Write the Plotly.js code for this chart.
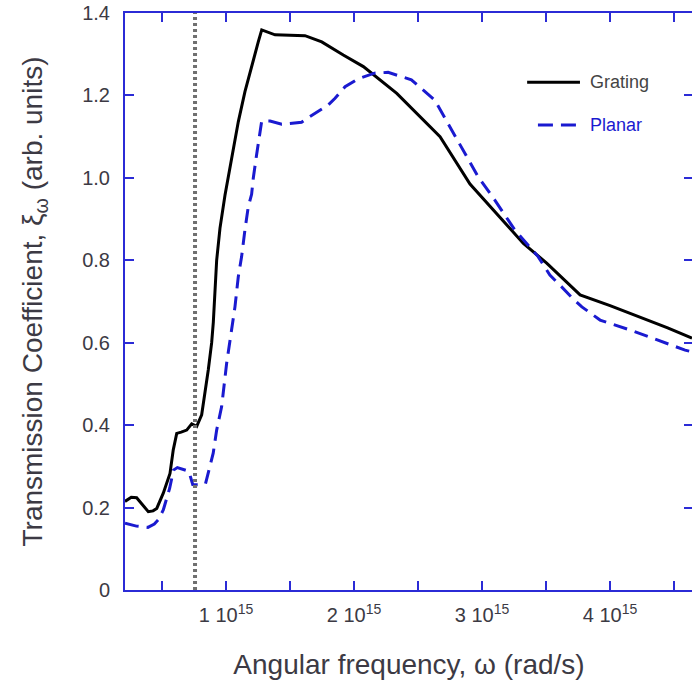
<!DOCTYPE html>
<html>
<head>
<meta charset="utf-8">
<script src="https://cdn.plot.ly/plotly-3.0.1.min.js"></script>
<style>
html,body{margin:0;padding:0;overflow:hidden;background:#fff;}
#chart{width:700px;height:693px;}
</style>
</head>
<body>
<div id="chart"></div>
<script>
// Angular frequency in units of 1e15 rad/s
const gratingOmega = [0.211,0.26,0.302,0.35,0.393,0.43,0.459,0.51,0.5625,0.588,0.615,0.65,0.693,0.732,0.771,0.81,0.836,0.862,0.888,0.901,0.927,0.953,0.992,1.045,1.096,1.148,1.201,1.252,1.279,1.383,1.617,1.748,1.916,2.073,2.334,2.672,2.906,3.115,3.323,3.505,3.766,4.0,4.234,4.45,4.64];
const gratingXi    = [0.215,0.225,0.224,0.205,0.19,0.192,0.198,0.235,0.283,0.34,0.38,0.383,0.388,0.403,0.397,0.425,0.475,0.535,0.60,0.65,0.80,0.878,0.958,1.048,1.136,1.209,1.274,1.33,1.359,1.347,1.345,1.33,1.298,1.27,1.205,1.10,0.985,0.914,0.841,0.793,0.716,0.69,0.662,0.636,0.611];

const planarOmega = [0.211,0.30,0.39,0.44,0.47,0.51,0.56,0.59,0.62,0.68,0.71,0.74,0.80,0.84,0.87,0.90,0.927,0.966,1.005,1.045,1.07,1.096,1.122,1.148,1.174,1.2,1.213,1.239,1.266,1.279,1.344,1.435,1.59,1.656,1.799,1.852,1.93,2.03,2.16,2.266,2.448,2.63,2.734,2.852,2.969,3.1,3.255,3.438,3.53,3.62,3.70,3.78,3.922,4.156,4.359,4.586,4.64];
const planarXi    = [0.162,0.155,0.152,0.16,0.17,0.194,0.247,0.291,0.297,0.29,0.288,0.256,0.255,0.258,0.299,0.332,0.388,0.445,0.55,0.639,0.687,0.76,0.809,0.874,0.93,0.96,0.999,1.056,1.12,1.138,1.138,1.13,1.135,1.149,1.177,1.193,1.221,1.24,1.254,1.256,1.238,1.189,1.132,1.068,1.003,0.946,0.874,0.809,0.764,0.736,0.71,0.687,0.655,0.631,0.607,0.582,0.578];

const cutoffOmega = 0.758;

const xTickVals = [1,2,3,4];
const xTickText = ['1 10<sup>15</sup>','2 10<sup>15</sup>','3 10<sup>15</sup>','4 10<sup>15</sup>'];
const yTickVals = [0,0.2,0.4,0.6,0.8,1.0,1.2,1.4];
const yTickText = ['0','0.2','0.4','0.6','0.8','1.0','1.2','1.4'];

const seriesNames = ['Grating','Planar'];

const axisBlue = '#2b2bd6';
const lineBlue = '#1a1ad0';
const labelColor = '#3c3a44';
const fontFam = '"Liberation Sans", Arial, sans-serif';

const traces = [
  {x: gratingOmega, y: gratingXi, mode:'lines', name: seriesNames[0],
   line:{color:'#000000', width:3}, showlegend:false},
  {x: planarOmega, y: planarXi, mode:'lines', name: seriesNames[1],
   line:{color:lineBlue, width:3, dash:'14px,8px'}, showlegend:false}
];

const axisCommon = {
  showline:true, linecolor:axisBlue, linewidth:2, mirror:'ticks',
  ticks:'inside', ticklen:9, tickwidth:2, tickcolor:axisBlue,
  showgrid:false, zeroline:false,
  tickfont:{family:fontFam, size:20, color:labelColor}
};

const layout = {
  width:700, height:693,
  margin:{l:125, r:7, t:13, b:103},
  paper_bgcolor:'#ffffff', plot_bgcolor:'#ffffff',
  font:{family:fontFam, color:labelColor},
  xaxis: Object.assign({}, axisCommon, {
    range:[0.211, 4.648],
    tickmode:'array', tickvals:xTickVals, ticktext:xTickText,
    minor:{tick0:0, dtick:0.5, ticks:'inside', ticklen:9, tickwidth:2, tickcolor:axisBlue, showgrid:false},
    ticklabelstandoff: 6,
    title:{text:'Angular frequency, ω (rad/s)', font:{family:fontFam, size:28, color:labelColor}, standoff:29}
  }),
  yaxis: Object.assign({}, axisCommon, {
    range:[0, 1.4],
    tickmode:'array', tickvals:yTickVals, ticktext:yTickText,
    ticklabelstandoff: 9,
    title:{text:'Transmission Coefficient, ξ<sub>ω</sub> (arb. units)', font:{family:fontFam, size:28, color:labelColor}, standoff:31}
  }),
  shapes:[
    {type:'line', xref:'x', yref:'y', x0:cutoffOmega, x1:cutoffOmega, y0:0, y1:1.4,
     line:{color:'#707070', width:4, dash:'3px,3px'}, layer:'above'},
    {type:'line', xref:'paper', yref:'paper', x0:0.708, x1:0.801, y0:0.880, y1:0.880,
     line:{color:'#000000', width:3}},
    {type:'line', xref:'paper', yref:'paper', x0:0.727, x1:0.801, y0:0.806, y1:0.806,
     line:{color:lineBlue, width:3, dash:'15px,8px'}}
  ],
  annotations:[
    {xref:'paper', yref:'paper', x:0.816, y:0.880, xanchor:'left', yanchor:'middle',
     text:seriesNames[0], showarrow:false, font:{family:fontFam, size:18, color:'#444444'}},
    {xref:'paper', yref:'paper', x:0.816, y:0.806, xanchor:'left', yanchor:'middle',
     text:seriesNames[1], showarrow:false, font:{family:fontFam, size:18, color:lineBlue}}
  ]
};

Plotly.newPlot('chart', traces, layout, {staticPlot:true, displayModeBar:false});
</script>
</body>
</html>
